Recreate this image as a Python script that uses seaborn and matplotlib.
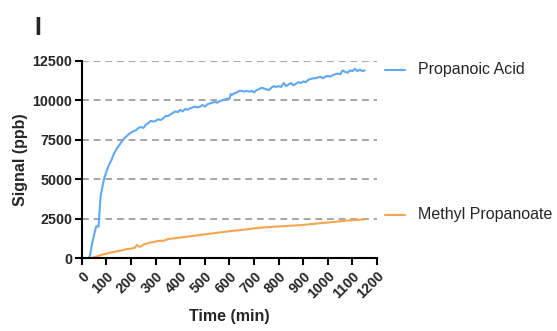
import numpy as np
import pandas as pd
import matplotlib
matplotlib.use("Agg")
import matplotlib.pyplot as plt
import matplotlib.transforms as mtransforms
import seaborn as sns

# ---- data ----
acid_time = [0, 10, 20, 28, 33, 40, 50, 58, 62, 68, 72, 76, 82, 90, 100, 110, 120, 130, 140,
             150, 160, 170, 180, 190, 200, 210, 220, 230, 240, 250, 260, 270, 280, 290, 300,
             310, 320, 330, 340, 350, 360, 370, 380, 390, 400, 410, 420, 430, 440, 450, 460,
             470, 480, 490, 500, 510, 520, 530, 540, 550, 560, 570, 580, 590, 600, 605, 610,
             620, 630, 640, 650, 660, 670, 680, 690, 700, 710, 720, 730, 740, 750, 760, 770,
             780, 790, 800, 810, 820, 830, 840, 850, 860, 870, 880, 890, 900, 910, 920, 930,
             940, 950, 960, 970, 980, 990, 1000, 1010, 1020, 1030, 1040, 1050, 1060, 1070,
             1080, 1090, 1100, 1110, 1120, 1130, 1140, 1150]
acid_signal = [0, 0, 0, 0, 150, 800, 1500, 2000, 2000, 2000, 3000, 3900, 4400, 5000, 5500, 5900,
               6200, 6600, 6900, 7100, 7350, 7550, 7700, 7850, 7950, 8050, 8100, 8250, 8300,
               8250, 8450, 8550, 8700, 8650, 8700, 8800, 8750, 8850, 9000, 9000, 9100, 9200,
               9300, 9250, 9400, 9300, 9450, 9400, 9500, 9550, 9600, 9550, 9600, 9700, 9600,
               9750, 9800, 9850, 9900, 9850, 9950, 10000, 10050, 10100, 10100, 10400, 10350,
               10450, 10500, 10600, 10600, 10550, 10600, 10550, 10600, 10500, 10650, 10700,
               10800, 10750, 10700, 10650, 10800, 10900, 10850, 10900, 10850, 11100, 10900,
               11000, 11100, 10950, 11050, 11150, 11100, 11200, 11150, 11300, 11350, 11400,
               11400, 11450, 11500, 11400, 11500, 11550, 11500, 11600, 11650, 11700, 11650,
               11900, 11800, 11750, 11900, 11850, 12000, 11850, 11950, 11850, 11900]

ester_time = [0, 20, 35, 40, 50, 60, 70, 80, 100, 120, 140, 160, 180, 200, 215, 224, 232, 240,
              250, 260, 280, 300, 320, 330, 350, 400, 450, 500, 550, 600, 650, 700, 750, 800,
              850, 900, 950, 1000, 1050, 1100, 1150]
ester_signal = [np.nan, np.nan, 0, 0, 50, 100, 150, 200, 280, 350, 420, 480, 560, 600, 650, 830,
                720, 730, 850, 900, 980, 1050, 1100, 1080, 1200, 1300, 1400, 1500, 1600, 1700,
                1780, 1880, 1950, 2000, 2050, 2100, 2180, 2250, 2330, 2400, 2450]

series_names = ["Propanoic Acid", "Methyl Propanoate"]
series_colors = ["#5fa8f7", "#f9a54e"]
x_ticks = list(range(0, 1201, 100))
y_ticks = [0, 2500, 5000, 7500, 10000, 12500]

df = pd.concat([
    pd.DataFrame({"Time": acid_time, "Signal": acid_signal, "Series": series_names[0]}),
    pd.DataFrame({"Time": ester_time, "Signal": ester_signal, "Series": series_names[1]}),
]).dropna()

# ---- figure ----
sns.set_style("white")
plt.rcParams["font.family"] = ["Liberation Sans", "DejaVu Sans"]

fig = plt.figure(figsize=(5.57, 3.31), dpi=100)
ax = fig.add_axes([0.147, 0.2205, 0.530, 0.5955])

for y in y_ticks[1:]:
    ax.axhline(y, color="#a6a6a6", lw=1.4, ls=(0, (3.5, 2.5)), zorder=0)

sns.lineplot(data=df, x="Time", y="Signal", hue="Series", palette=series_colors,
             hue_order=series_names, lw=1.5, ax=ax, legend=False, estimator=None, sort=False)

ax.set_xlim(0, 1200)
ax.set_ylim(0, 12500)
ax.set_xticks(x_ticks)
ax.set_yticks(y_ticks)
ax.set_xticklabels([str(t) for t in x_ticks], rotation=45, ha="right",
                   rotation_mode="anchor", fontweight="bold", fontsize=10.3)
ax.set_yticklabels([str(t) for t in y_ticks], fontweight="bold", fontsize=10.3)
ax.tick_params(axis="both", direction="out", length=5, width=1.5, color="black", pad=2)
ax.tick_params(axis="x", pad=3)
ax.xaxis.set_ticks_position("bottom")
ax.yaxis.set_ticks_position("left")
for s in ["top", "right"]:
    ax.spines[s].set_visible(False)
for s in ["left", "bottom"]:
    ax.spines[s].set_linewidth(1.5)
    ax.spines[s].set_color("black")

ax.set_xlabel("Time (min)", fontweight="bold", fontsize=11.5, labelpad=5)
ax.set_ylabel("Signal (ppb)", fontweight="bold", fontsize=11.5, labelpad=3)

# inline legend
trans = mtransforms.blended_transform_factory(ax.transAxes, ax.transData)
label_y = [11930, 2730]
for name, col, yy in zip(series_names, series_colors, label_y):
    ax.plot([1.027, 1.095], [yy, yy], color=col, lw=1.5, transform=trans, clip_on=False)
    ax.text(1.139, yy, name, transform=trans, va="center", ha="left", fontsize=11.5)

fig.text(0.062, 0.915, "I", fontsize=18, fontweight="bold", ha="left", va="center")

fig.savefig("out.png", dpi=100)
